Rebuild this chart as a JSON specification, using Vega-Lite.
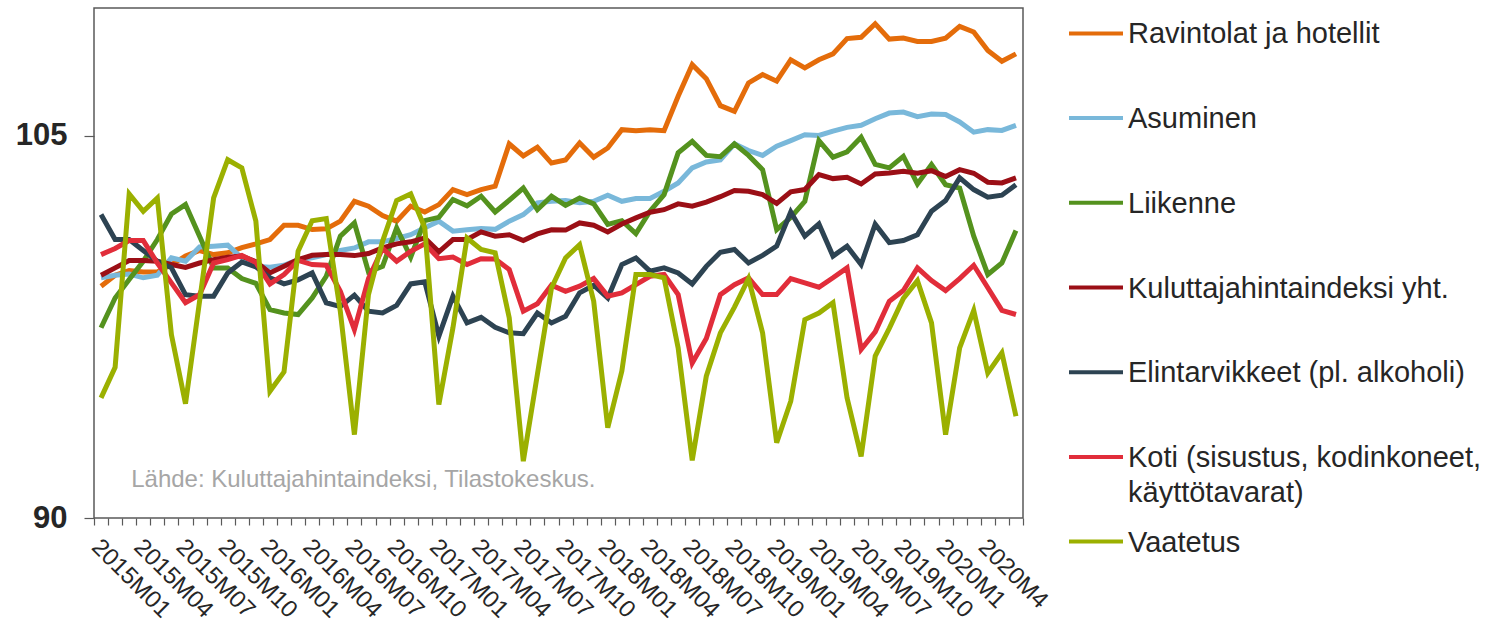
{
  "$schema": "https://vega.github.io/schema/vega-lite/v6.json",
  "padding": {"left": 5, "top": 7, "right": 5, "bottom": 0},
  "background": "white",
  "bounds": "flush",
  "spacing": 20,
  "config": {
    "font": "Liberation Sans",
    "view": {"stroke": "#595959", "strokeWidth": 1.5}
  },
  "datasets": {
    "cpi": [
      {"kk":"2015M01","Ravintolat":99.09,"Asuminen":99.42,"Liikenne":97.46,"KHI":99.52,"Elintarvikkeet":101.9,"Koti":100.33,"Vaatetus":94.71},
      {"kk":"2015M02","Ravintolat":99.52,"Asuminen":99.52,"Liikenne":98.63,"KHI":99.81,"Elintarvikkeet":100.92,"Koti":100.57,"Vaatetus":95.91},
      {"kk":"2015M03","Ravintolat":99.7,"Asuminen":99.57,"Liikenne":99.35,"KHI":100.1,"Elintarvikkeet":100.92,"Koti":100.88,"Vaatetus":102.71},
      {"kk":"2015M04","Ravintolat":99.65,"Asuminen":99.42,"Liikenne":100.07,"KHI":100.1,"Elintarvikkeet":100.49,"Koti":100.88,"Vaatetus":102.03},
      {"kk":"2015M05","Ravintolat":99.65,"Asuminen":99.52,"Liikenne":100.92,"KHI":100.07,"Elintarvikkeet":100.07,"Koti":100.0,"Vaatetus":102.55},
      {"kk":"2015M06","Ravintolat":99.94,"Asuminen":100.2,"Liikenne":101.92,"KHI":99.94,"Elintarvikkeet":99.81,"Koti":99.22,"Vaatetus":97.19},
      {"kk":"2015M07","Ravintolat":100.27,"Asuminen":100.07,"Liikenne":102.29,"KHI":99.83,"Elintarvikkeet":98.76,"Koti":98.44,"Vaatetus":94.48},
      {"kk":"2015M08","Ravintolat":100.49,"Asuminen":100.63,"Liikenne":101.05,"KHI":100.0,"Elintarvikkeet":98.7,"Koti":98.76,"Vaatetus":98.5},
      {"kk":"2015M09","Ravintolat":100.33,"Asuminen":100.66,"Liikenne":99.8,"KHI":100.13,"Elintarvikkeet":98.7,"Koti":100.0,"Vaatetus":102.55},
      {"kk":"2015M10","Ravintolat":100.4,"Asuminen":100.7,"Liikenne":99.8,"KHI":100.23,"Elintarvikkeet":99.61,"Koti":100.13,"Vaatetus":104.05},
      {"kk":"2015M11","Ravintolat":100.6,"Asuminen":100.2,"Liikenne":99.39,"KHI":100.27,"Elintarvikkeet":100.04,"Koti":100.3,"Vaatetus":103.73},
      {"kk":"2015M12","Ravintolat":100.75,"Asuminen":99.87,"Liikenne":99.2,"KHI":100.05,"Elintarvikkeet":99.85,"Koti":100.02,"Vaatetus":101.64},
      {"kk":"2016M01","Ravintolat":100.92,"Asuminen":99.83,"Liikenne":98.17,"KHI":99.61,"Elintarvikkeet":99.42,"Koti":99.18,"Vaatetus":94.97},
      {"kk":"2016M02","Ravintolat":101.48,"Asuminen":99.91,"Liikenne":98.04,"KHI":99.87,"Elintarvikkeet":99.18,"Koti":99.55,"Vaatetus":95.73},
      {"kk":"2016M03","Ravintolat":101.48,"Asuminen":100.13,"Liikenne":97.98,"KHI":100.13,"Elintarvikkeet":99.34,"Koti":100.1,"Vaatetus":100.46},
      {"kk":"2016M04","Ravintolat":101.31,"Asuminen":100.2,"Liikenne":98.63,"KHI":100.3,"Elintarvikkeet":99.61,"Koti":99.94,"Vaatetus":101.66},
      {"kk":"2016M05","Ravintolat":101.34,"Asuminen":100.33,"Liikenne":99.48,"KHI":100.33,"Elintarvikkeet":98.44,"Koti":99.91,"Vaatetus":101.74},
      {"kk":"2016M06","Ravintolat":101.64,"Asuminen":100.49,"Liikenne":101.05,"KHI":100.33,"Elintarvikkeet":98.29,"Koti":98.89,"Vaatetus":98.1},
      {"kk":"2016M07","Ravintolat":102.42,"Asuminen":100.59,"Liikenne":101.57,"KHI":100.29,"Elintarvikkeet":98.74,"Koti":97.39,"Vaatetus":93.27},
      {"kk":"2016M08","Ravintolat":102.23,"Asuminen":100.83,"Liikenne":99.65,"KHI":100.37,"Elintarvikkeet":98.11,"Koti":99.39,"Vaatetus":98.76},
      {"kk":"2016M09","Ravintolat":101.86,"Asuminen":100.83,"Liikenne":99.87,"KHI":100.59,"Elintarvikkeet":98.04,"Koti":100.57,"Vaatetus":100.85},
      {"kk":"2016M10","Ravintolat":101.64,"Asuminen":100.96,"Liikenne":101.38,"KHI":100.75,"Elintarvikkeet":98.34,"Koti":100.07,"Vaatetus":102.45},
      {"kk":"2016M11","Ravintolat":102.23,"Asuminen":101.11,"Liikenne":100.23,"KHI":100.83,"Elintarvikkeet":99.18,"Koti":100.46,"Vaatetus":102.71},
      {"kk":"2016M12","Ravintolat":102.0,"Asuminen":101.38,"Liikenne":101.66,"KHI":100.98,"Elintarvikkeet":99.26,"Koti":100.75,"Vaatetus":101.38},
      {"kk":"2017M01","Ravintolat":102.29,"Asuminen":101.64,"Liikenne":101.79,"KHI":100.44,"Elintarvikkeet":97.13,"Koti":100.17,"Vaatetus":94.45},
      {"kk":"2017M02","Ravintolat":102.88,"Asuminen":101.25,"Liikenne":102.49,"KHI":100.92,"Elintarvikkeet":98.7,"Koti":100.23,"Vaatetus":97.46},
      {"kk":"2017M03","Ravintolat":102.68,"Asuminen":101.3,"Liikenne":102.24,"KHI":100.92,"Elintarvikkeet":97.65,"Koti":99.94,"Vaatetus":100.98},
      {"kk":"2017M04","Ravintolat":102.88,"Asuminen":101.35,"Liikenne":102.62,"KHI":101.22,"Elintarvikkeet":97.87,"Koti":100.17,"Vaatetus":100.53},
      {"kk":"2017M05","Ravintolat":103.01,"Asuminen":101.32,"Liikenne":102.0,"KHI":101.05,"Elintarvikkeet":97.48,"Koti":100.16,"Vaatetus":100.4},
      {"kk":"2017M06","Ravintolat":104.67,"Asuminen":101.64,"Liikenne":102.46,"KHI":101.11,"Elintarvikkeet":97.26,"Koti":99.74,"Vaatetus":97.85},
      {"kk":"2017M07","Ravintolat":104.2,"Asuminen":101.9,"Liikenne":102.94,"KHI":100.88,"Elintarvikkeet":97.23,"Koti":98.11,"Vaatetus":92.23},
      {"kk":"2017M08","Ravintolat":104.54,"Asuminen":102.36,"Liikenne":102.09,"KHI":101.14,"Elintarvikkeet":98.04,"Koti":98.4,"Vaatetus":95.63},
      {"kk":"2017M09","Ravintolat":103.92,"Asuminen":102.42,"Liikenne":102.62,"KHI":101.3,"Elintarvikkeet":97.65,"Koti":99.13,"Vaatetus":99.02},
      {"kk":"2017M10","Ravintolat":104.04,"Asuminen":102.45,"Liikenne":102.26,"KHI":101.29,"Elintarvikkeet":97.91,"Koti":98.89,"Vaatetus":100.2},
      {"kk":"2017M11","Ravintolat":104.71,"Asuminen":102.36,"Liikenne":102.55,"KHI":101.57,"Elintarvikkeet":98.83,"Koti":99.09,"Vaatetus":100.72},
      {"kk":"2017M12","Ravintolat":104.15,"Asuminen":102.42,"Liikenne":102.32,"KHI":101.48,"Elintarvikkeet":99.13,"Koti":99.39,"Vaatetus":98.5},
      {"kk":"2018M01","Ravintolat":104.51,"Asuminen":102.66,"Liikenne":101.51,"KHI":101.22,"Elintarvikkeet":98.63,"Koti":98.7,"Vaatetus":93.54},
      {"kk":"2018M02","Ravintolat":105.23,"Asuminen":102.42,"Liikenne":101.66,"KHI":101.53,"Elintarvikkeet":99.94,"Koti":98.83,"Vaatetus":95.76},
      {"kk":"2018M03","Ravintolat":105.19,"Asuminen":102.53,"Liikenne":101.15,"KHI":101.77,"Elintarvikkeet":100.2,"Koti":99.15,"Vaatetus":99.55},
      {"kk":"2018M04","Ravintolat":105.23,"Asuminen":102.53,"Liikenne":102.03,"KHI":101.99,"Elintarvikkeet":99.68,"Koti":99.48,"Vaatetus":99.55},
      {"kk":"2018M05","Ravintolat":105.19,"Asuminen":102.81,"Liikenne":102.68,"KHI":102.09,"Elintarvikkeet":99.81,"Koti":99.55,"Vaatetus":99.42},
      {"kk":"2018M06","Ravintolat":106.54,"Asuminen":103.14,"Liikenne":104.32,"KHI":102.32,"Elintarvikkeet":99.61,"Koti":98.76,"Vaatetus":96.67},
      {"kk":"2018M07","Ravintolat":107.78,"Asuminen":103.73,"Liikenne":104.77,"KHI":102.23,"Elintarvikkeet":99.18,"Koti":96.08,"Vaatetus":92.26},
      {"kk":"2018M08","Ravintolat":107.23,"Asuminen":103.96,"Liikenne":104.22,"KHI":102.39,"Elintarvikkeet":99.87,"Koti":97.04,"Vaatetus":95.56},
      {"kk":"2018M09","Ravintolat":106.17,"Asuminen":104.04,"Liikenne":104.17,"KHI":102.6,"Elintarvikkeet":100.42,"Koti":98.76,"Vaatetus":97.26},
      {"kk":"2018M10","Ravintolat":105.95,"Asuminen":104.67,"Liikenne":104.67,"KHI":102.84,"Elintarvikkeet":100.53,"Koti":99.15,"Vaatetus":98.27},
      {"kk":"2018M11","Ravintolat":107.06,"Asuminen":104.41,"Liikenne":104.22,"KHI":102.81,"Elintarvikkeet":100.0,"Koti":99.42,"Vaatetus":99.39},
      {"kk":"2018M12","Ravintolat":107.39,"Asuminen":104.22,"Liikenne":103.66,"KHI":102.68,"Elintarvikkeet":100.3,"Koti":98.76,"Vaatetus":97.26},
      {"kk":"2019M01","Ravintolat":107.13,"Asuminen":104.58,"Liikenne":101.31,"KHI":102.34,"Elintarvikkeet":100.66,"Koti":98.76,"Vaatetus":92.95},
      {"kk":"2019M02","Ravintolat":107.97,"Asuminen":104.8,"Liikenne":101.79,"KHI":102.79,"Elintarvikkeet":102.0,"Koti":99.39,"Vaatetus":94.58},
      {"kk":"2019M03","Ravintolat":107.65,"Asuminen":105.03,"Liikenne":102.42,"KHI":102.88,"Elintarvikkeet":101.05,"Koti":99.22,"Vaatetus":97.78},
      {"kk":"2019M04","Ravintolat":107.97,"Asuminen":105.0,"Liikenne":104.8,"KHI":103.47,"Elintarvikkeet":101.53,"Koti":99.05,"Vaatetus":98.04},
      {"kk":"2019M05","Ravintolat":108.2,"Asuminen":105.17,"Liikenne":104.15,"KHI":103.31,"Elintarvikkeet":100.27,"Koti":99.42,"Vaatetus":98.44},
      {"kk":"2019M06","Ravintolat":108.8,"Asuminen":105.32,"Liikenne":104.36,"KHI":103.36,"Elintarvikkeet":100.66,"Koti":99.81,"Vaatetus":94.71},
      {"kk":"2019M07","Ravintolat":108.85,"Asuminen":105.4,"Liikenne":104.93,"KHI":103.1,"Elintarvikkeet":99.94,"Koti":96.61,"Vaatetus":92.42},
      {"kk":"2019M08","Ravintolat":109.38,"Asuminen":105.66,"Liikenne":103.87,"KHI":103.49,"Elintarvikkeet":101.52,"Koti":97.3,"Vaatetus":96.35},
      {"kk":"2019M09","Ravintolat":108.78,"Asuminen":105.88,"Liikenne":103.73,"KHI":103.53,"Elintarvikkeet":100.8,"Koti":98.5,"Vaatetus":97.44},
      {"kk":"2019M10","Ravintolat":108.82,"Asuminen":105.92,"Liikenne":104.18,"KHI":103.6,"Elintarvikkeet":100.88,"Koti":98.92,"Vaatetus":98.61},
      {"kk":"2019M11","Ravintolat":108.69,"Asuminen":105.74,"Liikenne":103.1,"KHI":103.52,"Elintarvikkeet":101.11,"Koti":99.81,"Vaatetus":99.31},
      {"kk":"2019M12","Ravintolat":108.69,"Asuminen":105.84,"Liikenne":103.86,"KHI":103.62,"Elintarvikkeet":102.03,"Koti":99.31,"Vaatetus":97.65},
      {"kk":"2020M1","Ravintolat":108.82,"Asuminen":105.82,"Liikenne":103.07,"KHI":103.39,"Elintarvikkeet":102.45,"Koti":98.92,"Vaatetus":93.27},
      {"kk":"2020M2","Ravintolat":109.28,"Asuminen":105.53,"Liikenne":102.94,"KHI":103.66,"Elintarvikkeet":103.34,"Koti":99.39,"Vaatetus":96.67},
      {"kk":"2020M3","Ravintolat":109.06,"Asuminen":105.13,"Liikenne":101.05,"KHI":103.52,"Elintarvikkeet":102.88,"Koti":99.91,"Vaatetus":98.14},
      {"kk":"2020M4","Ravintolat":108.33,"Asuminen":105.23,"Liikenne":99.55,"KHI":103.17,"Elintarvikkeet":102.58,"Koti":99.03,"Vaatetus":95.69},
      {"kk":"2020M5","Ravintolat":107.91,"Asuminen":105.2,"Liikenne":100.0,"KHI":103.14,"Elintarvikkeet":102.66,"Koti":98.14,"Vaatetus":96.48},
      {"kk":"2020M6","Ravintolat":108.2,"Asuminen":105.4,"Liikenne":101.27,"KHI":103.34,"Elintarvikkeet":103.07,"Koti":97.98,"Vaatetus":93.99}
    ],
    "sarjat": [
      {"sarja":"Ravintolat","nimi":"Ravintolat ja hotellit"},
      {"sarja":"Asuminen","nimi":"Asuminen"},
      {"sarja":"Liikenne","nimi":"Liikenne"},
      {"sarja":"KHI","nimi":"Kuluttajahintaindeksi yht."},
      {"sarja":"Elintarvikkeet","nimi":"Elintarvikkeet (pl. alkoholi)"},
      {"sarja":"Koti","nimi":"Koti (sisustus, kodinkoneet,\nkäyttötavarat)"},
      {"sarja":"Vaatetus","nimi":"Vaatetus"}
    ]
  },
  "hconcat": [
    {
      "width": 929,
      "height": 510,
      "layer": [
        {
          "data": {"name": "cpi"},
          "transform": [
            {"fold": ["Ravintolat","Asuminen","Liikenne","KHI","Elintarvikkeet","Koti","Vaatetus"], "as": ["sarja","arvo"]}
          ],
          "mark": {"type": "line", "strokeWidth": 5},
          "encoding": {
            "x": {
              "field": "kk", "type": "ordinal", "sort": null,
              "scale": {"type": "band", "paddingInner": 0, "paddingOuter": 0},
              "axis": {
                "title": null,
                "labelExpr": "(toNumber(substring(datum.value, 5)) - 1) % 3 == 0 ? datum.value : ''",
                "labelAngle": 45, "labelAlign": "left", "labelBaseline": "middle",
                "labelFontSize": 24, "labelColor": "#262626",
                "labelPadding": 18, "labelOffset": -6, "labelOverlap": false,
                "tickBand": "extent", "tickSize": 7, "tickColor": "#595959", "tickWidth": 1.2,
                "domain": false, "grid": false
              }
            },
            "y": {
              "field": "arvo", "type": "quantitative",
              "scale": {"domain": [90, 110], "nice": false, "zero": false},
              "axis": {
                "title": null, "values": [90, 105],
                "labelFontSize": 31, "labelFontWeight": "bold", "labelColor": "#262626",
                "tickSize": 10, "tickColor": "#595959", "tickWidth": 1.2, "labelPadding": 17,
                "domain": false, "grid": false, "minExtent": 88, "maxExtent": 88
              }
            },
            "color": {
              "field": "sarja", "type": "nominal",
              "scale": {
                "domain": ["Ravintolat","Asuminen","Liikenne","KHI","Elintarvikkeet","Koti","Vaatetus"],
                "range": ["#E46C0A","#79B8DA","#54921E","#9B0F16","#2D4352","#E12D3A","#9BB000"]
              },
              "legend": null
            }
          }
        },
        {
          "data": {"values": [{"lahde": "Lähde: Kuluttajahintaindeksi, Tilastokeskus."}]},
          "mark": {"type": "text", "align": "left", "baseline": "middle", "fontSize": 24, "color": "#A6A6A6", "dx": 2},
          "encoding": {
            "x": {"datum": "2015M03", "type": "ordinal"},
            "y": {"datum": 91.5, "type": "quantitative"},
            "text": {"field": "lahde"}
          }
        }
      ]
    },
    {
      "width": 420,
      "height": 559,
      "view": {"stroke": null},
      "data": {"name": "sarjat"},
      "encoding": {
        "y": {
          "field": "sarja", "type": "nominal",
          "scale": {"type": "point", "padding": 0.3, "domain": ["Ravintolat","Asuminen","Liikenne","KHI","Elintarvikkeet","Koti","Vaatetus"]},
          "axis": null
        }
      },
      "layer": [
        {
          "mark": {"type": "rule", "strokeWidth": 4},
          "encoding": {
            "x": {"datum": 26, "type": "quantitative", "scale": {"domain": [0, 420], "nice": false, "zero": false}, "axis": null},
            "x2": {"datum": 80},
            "color": {"field": "sarja", "type": "nominal", "legend": null}
          }
        },
        {
          "mark": {"type": "text", "align": "left", "baseline": "alphabetic", "dy": 10, "fontSize": 29, "lineBreak": "\n", "lineHeight": 35, "color": "#262626"},
          "encoding": {
            "x": {"datum": 85, "type": "quantitative"},
            "text": {"field": "nimi"}
          }
        }
      ]
    }
  ]
}
